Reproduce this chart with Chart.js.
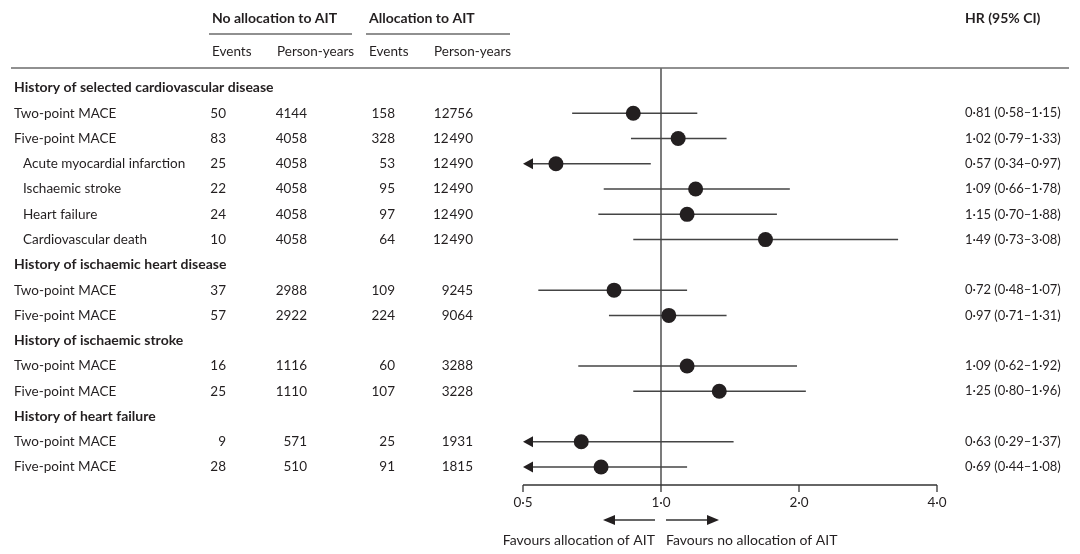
<!DOCTYPE html>
<html><head><meta charset="utf-8">
<script src="https://cdn.jsdelivr.net/npm/chart.js@4"></script>
<style>html,body{margin:0;padding:0;background:#fff}#wrap{width:1080px;height:554px;position:relative}</style>
</head><body><div id="wrap"><canvas id="c"></canvas></div>
<script>
const rowLabels=['History of selected cardiovascular disease','Two-point MACE','Five-point MACE','Acute myocardial infarction','Ischaemic stroke','Heart failure','Cardiovascular death','History of ischaemic heart disease','Two-point MACE','Five-point MACE','History of ischaemic stroke','Two-point MACE','Five-point MACE','History of heart failure','Two-point MACE','Five-point MACE'];
const rowKinds=['h','m','m','s','s','s','s','h','m','m','h','m','m','h','m','m'];
const eventsNo=[null,50,83,25,22,24,10,null,37,57,null,16,25,null,9,28];
const personYearsNo=[null,'4144','4058','4058','4058','4058','4058',null,'2988','2922',null,'1116','1110',null,'571','510'];
const eventsAIT=[null,158,328,53,95,97,64,null,109,224,null,60,107,null,25,91];
const personYearsAIT=[null,'12756','12\u200A490','12\u200A490','12\u200A490','12\u200A490','12\u200A490',null,'9245','9064',null,'3288','3228',null,'1931','1815'];
const hr=[null,0.87,1.09,0.59,1.19,1.14,1.69,null,0.79,1.04,null,1.14,1.34,null,0.67,0.74];
const ciLow=[null,0.64,0.86,0.34,0.75,0.73,0.87,null,0.54,0.77,null,0.66,0.87,null,0.29,0.44];
const ciHigh=[null,1.20,1.39,0.95,1.91,1.79,3.29,null,1.14,1.39,null,1.98,2.07,null,1.44,1.14];
const hrText=[null,'0·81 (0·58–1·15)','1·02 (0·79–1·33)','0·57 (0·34–0·97)','1·09 (0·66–1·78)','1·15 (0·70–1·88)','1·49 (0·73–3·08)',null,'0·72 (0·48–1·07)','0·97 (0·71–1·31)',null,'1·09 (0·62–1·92)','1·25 (0·80–1·96)',null,'0·63 (0·29–1·37)','0·69 (0·44–1·08)'];
const xTicks=[0.5,1,2,4];
const xTickLabels=['0·5','1·0','2·0','4·0'];
const groupHeaders=['No allocation to AIT','Allocation to AIT'];
const colHeaders=['Events','Person-years','Events','Person-years'];
const hrHeader='HR (95% CI)';
const favours=['Favours allocation of AIT','Favours no allocation of AIT'];

const FONT='Lato';
const TXT='#231f20';
function font(sz,bold){return (bold?'bold ':'')+sz+'px '+FONT;}

const pointData=[];
hr.forEach((v,i)=>{if(v!==null)pointData.push({x:v,y:i});});

function tri(ctx,tipX,y,dir,w,h){
  ctx.beginPath();ctx.moveTo(tipX,y);ctx.lineTo(tipX+dir*w,y-h/2);ctx.lineTo(tipX+dir*w,y+h/2);ctx.closePath();ctx.fill();
}

const forestPlugin={
  id:'forest',
  beforeDatasetsDraw(chart){
    const ctx=chart.ctx,xs=chart.scales.x,ys=chart.scales.y,ca=chart.chartArea;
    ctx.save();
    const x1=xs.getPixelForValue(1);
    ctx.strokeStyle='#333';ctx.lineWidth=1.3;
    ctx.beginPath();ctx.moveTo(x1,ca.top);ctx.lineTo(x1,ca.bottom);ctx.stroke();
    ctx.strokeStyle='#444';ctx.fillStyle='#231f20';ctx.lineWidth=1.5;
    for(let i=0;i<hr.length;i++){
      if(hr[i]===null)continue;
      const y=ys.getPixelForValue(i);
      const lo=Math.max(ciLow[i],xs.min),hi=Math.min(ciHigh[i],xs.max);
      const xl=xs.getPixelForValue(lo);const xr=xs.getPixelForValue(hi);
      ctx.beginPath();ctx.moveTo(xl+(ciLow[i]<xs.min?6:0),y);ctx.lineTo(xr,y);ctx.stroke();
      if(ciLow[i]<xs.min){tri(ctx,xl,y,1,10,11);}
    }
    ctx.strokeStyle='#333';ctx.lineWidth=1.3;
    const xa=xs.getPixelForValue(xTicks[0]),xb=xs.getPixelForValue(xTicks[xTicks.length-1]);
    ctx.beginPath();ctx.moveTo(xa,ca.bottom);ctx.lineTo(xb,ca.bottom);ctx.stroke();
    ctx.fillStyle=TXT;ctx.font=font(13.5);ctx.textAlign='center';ctx.textBaseline='middle';
    xTicks.forEach((t,k)=>{
      const px=xs.getPixelForValue(t);
      ctx.beginPath();ctx.moveTo(px,ca.bottom);ctx.lineTo(px,ca.bottom+7);ctx.stroke();
      ctx.fillText(xTickLabels[k],px,ca.bottom+18);
    });
    const ay=ca.bottom+35;
    ctx.fillStyle='#231f20';ctx.lineWidth=1.3;
    ctx.beginPath();ctx.moveTo(x1-6,ay);ctx.lineTo(x1-50,ay);ctx.stroke();tri(ctx,x1-58,ay,1,12,10);
    ctx.beginPath();ctx.moveTo(x1+5,ay);ctx.lineTo(x1+50,ay);ctx.stroke();tri(ctx,x1+58,ay,-1,12,10);
    ctx.fillStyle=TXT;ctx.font=font(14);ctx.textBaseline='middle';
    ctx.textAlign='right';ctx.fillText(favours[0],x1-6,ca.bottom+55);
    ctx.textAlign='left';ctx.fillText(favours[1],x1+5,ca.bottom+55);
    ctx.restore();
  },
  afterDraw(chart){
    const ctx=chart.ctx,ys=chart.scales.y;
    ctx.save();
    ctx.fillStyle=TXT;ctx.textBaseline='middle';
    ctx.font=font(14,true);ctx.textAlign='left';
    ctx.fillText(groupHeaders[0],212,18);
    ctx.fillText(groupHeaders[1],369,18);
    ctx.fillText(hrHeader,965,18);
    ctx.font=font(13.5);
    ctx.fillText(colHeaders[0],212,52);
    ctx.fillText(colHeaders[1],277,52);
    ctx.fillText(colHeaders[2],369,52);
    ctx.fillText(colHeaders[3],434,52);
    ctx.strokeStyle='#6b6b6b';ctx.lineWidth=1.5;
    ctx.beginPath();ctx.moveTo(209,34);ctx.lineTo(352,34);ctx.stroke();
    ctx.beginPath();ctx.moveTo(366,34);ctx.lineTo(510,34);ctx.stroke();
    ctx.beginPath();ctx.moveTo(11,68);ctx.lineTo(1069,68);ctx.stroke();
    for(let i=0;i<rowLabels.length;i++){
      const y=ys.getPixelForValue(i);
      const k=rowKinds[i];
      ctx.textAlign='left';
      ctx.font=font(k==='h'?14:13.5,k==='h');
      ctx.fillText(rowLabels[i],k==='s'?23:14,y);
      if(k==='h')continue;
      ctx.font=font(13.5);
      ctx.textAlign='right';
      ctx.fillText(String(eventsNo[i]),226,y);
      ctx.fillText(personYearsNo[i],307,y);
      ctx.fillText(String(eventsAIT[i]),395,y);
      ctx.fillText(personYearsAIT[i],473,y);
      ctx.textAlign='left';
      ctx.font=font(13);
      ctx.fillText(hrText[i],965,y);
    }
    ctx.restore();
  }
};

new Chart(document.getElementById('c'),{
  type:'scatter',
  data:{datasets:[{data:pointData,pointRadius:7.5,pointHoverRadius:7.5,backgroundColor:'#231f20',borderColor:'#231f20',borderWidth:0,clip:false}]},
  options:{
    responsive:true,maintainAspectRatio:false,animation:false,
    layout:{padding:{left:523,right:143,top:68,bottom:69}},
    plugins:{legend:{display:false},tooltip:{enabled:false}},
    scales:{
      x:{type:'logarithmic',min:0.5,max:4,display:false},
      y:{type:'linear',min:-0.79,max:15.71,reverse:true,display:false}
    }
  },
  plugins:[forestPlugin]
});
</script></body></html>
